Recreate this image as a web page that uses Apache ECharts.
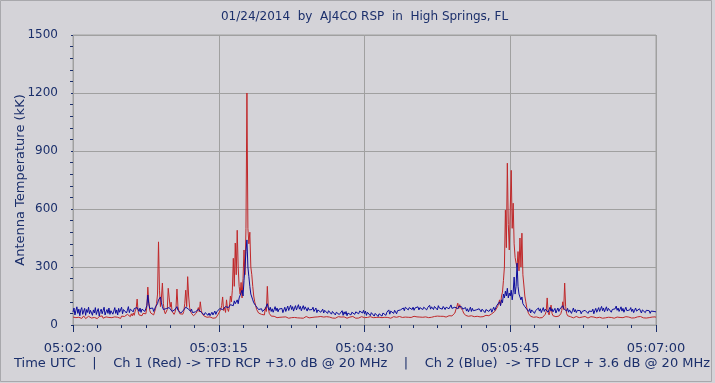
<!DOCTYPE html>
<html>
<head>
<meta charset="utf-8">
<script src="https://cdn.jsdelivr.net/npm/echarts@6/dist/echarts.min.js"></script>
<style>
  html, body { margin: 0; padding: 0; background: #d4d3d8; }
  #chart { width: 715px; height: 383px; }
</style>
</head>
<body>
<div id="chart"></div>
<script>
// X axis: seconds after 05:02:00, two samples per second
const sampleStep = 0.5;
const tickLabels = ['05:02:00', '05:03:15', '05:04:30', '05:05:45', '05:07:00'];

// Ch 1 (Red) antenna temperature, kK
const redValues = [
  41, 35, 44, 38, 33, 46, 40, 36, 43, 34, 39, 47, 37, 33, 42, 38, 45, 35, 40, 36,
  43, 34, 39, 46, 37, 33, 41, 44, 36, 38, 47, 35, 40, 33, 42, 37, 45, 39, 34, 41,
  38, 44, 36, 42, 35, 47, 40, 37, 43, 34, 46, 39, 52, 44, 48, 41, 55, 46, 50, 43,
  58, 47, 62, 50, 72, 85, 134, 70, 52, 46, 55, 48, 60, 53, 66, 58, 95, 196, 120, 75,
  62, 55, 68, 52, 60, 85, 110, 160, 430, 180, 95, 140, 217, 110, 72, 58, 66, 80, 190, 140,
  92, 118, 70, 60, 55, 66, 90, 186, 95, 70, 58, 52, 64, 56, 70, 110, 180, 95, 250, 150,
  90, 72, 60, 54, 48, 52, 58, 62, 75, 90, 68, 120, 76, 58, 50, 46, 42, 48, 40, 44,
  38, 42, 36, 40, 35, 39, 44, 37, 46, 52, 60, 55, 80, 100, 145, 75, 90, 65, 130, 85,
  70, 95, 150, 120, 180, 345, 200, 424, 260, 490, 300, 200, 160, 220, 140, 240, 388, 260, 500, 1200,
  500, 420, 480, 300, 260, 200, 150, 120, 100, 80, 70, 62, 58, 66, 55, 50, 60, 52, 90, 70,
  200, 90, 60, 52, 46, 50, 42, 45, 40, 44, 38, 42, 36, 40, 43, 37, 41, 35, 39, 42,
  37, 41, 35, 40, 44, 38, 36, 42, 39, 34, 43, 37, 40, 45, 36, 39, 42, 35, 41, 38,
  44, 36, 40, 37, 42, 35, 39, 43, 36, 41, 38, 34, 42, 40, 37, 44, 35, 39, 41, 36,
  40, 43, 37, 35, 41, 38, 44, 36, 39, 42, 35, 40, 37, 43, 38, 36, 41, 34, 39, 42,
  37, 40, 35, 43, 38, 41, 36, 39, 44, 37, 40, 35, 42, 38, 36, 41, 39, 43, 35, 40,
  38, 42, 36, 39, 41, 35, 43, 37, 40, 38, 44, 36, 39, 42, 37, 40, 35, 41, 38, 43,
  36, 40, 42, 37, 39, 44, 38, 35, 41, 37, 43, 39, 36, 40, 42, 38, 44, 37, 40, 39,
  42, 38, 41, 36, 44, 40, 37, 43, 39, 41, 38, 45, 40, 37, 42, 39, 44, 41, 38, 43,
  40, 44, 39, 42, 46, 41, 38, 45, 43, 40, 47, 42, 44, 48, 41, 46, 43, 50, 45, 48,
  42, 45, 40, 44, 41, 46, 43, 48, 44, 50, 47, 55, 52, 62, 70, 95, 113, 85, 105, 90,
  100, 75, 62, 55, 50, 47, 52, 45, 49, 44, 48, 42, 46, 43, 47, 41, 45, 44, 48, 42,
  42, 46, 43, 49, 45, 50, 47, 52, 48, 55, 50, 58, 54, 62, 70, 65, 80, 95, 110, 130,
  100, 150, 170, 230, 300, 594, 400, 837, 520, 388, 600, 800, 500, 630, 420, 350, 320, 300, 380, 280,
  450, 300, 475, 260, 207, 150, 120, 90, 70, 58, 50, 45, 42, 46, 40, 44, 38, 42, 39, 43,
  37, 41, 44, 38, 42, 47, 55, 70, 140, 65, 52, 58, 103, 60, 48, 44, 40, 43, 39, 42,
  46, 50, 58, 75, 120, 80, 217, 95, 60, 48, 44, 40, 43, 38, 42, 37, 41, 39, 44, 36,
  40, 38, 43, 37, 41, 35, 39, 44, 38, 42, 36, 40, 37, 43, 39, 35, 41, 38, 44, 37,
  42, 36, 40, 38, 43, 35, 41, 39, 37, 44, 38, 40, 36, 42, 39, 37, 43, 35, 40, 38,
  41, 37, 44, 39, 36, 42, 38, 40, 35, 43, 39, 37, 41, 44, 38, 36, 42, 40, 37, 43,
  39, 42, 36, 40, 44, 38, 41, 37, 43, 39, 36, 42, 40, 38, 44, 37, 41, 39, 36, 42,
  40
];

// Ch 2 (Blue) antenna temperature, kK
const blueValues = [
  67, 88, 52, 75, 94, 60, 82, 48, 78, 90, 55, 72, 86, 50, 80, 65, 92, 58, 76, 84,
  50, 78, 62, 90, 54, 72, 85, 46, 70, 82, 58, 75, 92, 52, 68, 80, 60, 88, 55, 74,
  83, 56, 72, 90, 60, 78, 52, 86, 66, 74, 92, 58, 80, 70, 88, 62, 76, 95, 64, 82,
  72, 90, 68, 85, 78, 95, 90, 80, 70, 88, 65, 82, 75, 92, 70, 86, 100, 155, 110, 85,
  92, 75, 88, 70, 82, 95, 100, 110, 130, 120, 145, 115, 95, 80, 88, 72, 85, 78, 95, 90,
  82, 88, 70, 78, 66, 80, 90, 95, 76, 68, 80, 62, 72, 65, 78, 88, 92, 85, 100, 82,
  78, 70, 82, 64, 72, 58, 68, 62, 75, 80, 70, 85, 66, 58, 72, 52, 64, 56, 70, 50,
  62, 48, 58, 66, 52, 60, 72, 55, 68, 78, 62, 85, 75, 92, 80, 88, 72, 95, 85, 100,
  90, 82, 105, 95, 115, 100, 125, 110, 120, 130, 110, 140, 150, 130, 180, 150, 230, 300, 380, 440,
  300, 250, 200, 160, 150, 130, 115, 105, 100, 90, 96, 80, 88, 72, 84, 70, 78, 66, 85, 90,
  110, 88, 76, 92, 70, 84, 66, 80, 95, 74, 88, 68, 82, 90, 72, 86, 64, 78, 92, 70,
  84, 98, 75, 90, 102, 80, 95, 72, 88, 100, 78, 92, 105, 82, 96, 74, 88, 100, 80, 94,
  86, 72, 90, 78, 84, 68, 80, 92, 70, 76, 88, 64, 78, 72, 86, 66, 74, 82, 62, 76,
  70, 82, 60, 74, 66, 78, 56, 70, 62, 76, 52, 66, 58, 72, 54, 64, 60, 74, 50, 68,
  56, 70, 48, 62, 58, 72, 52, 66, 60, 74, 55, 68, 62, 78, 58, 72, 66, 80, 62, 76,
  58, 72, 50, 66, 60, 76, 48, 64, 56, 70, 46, 60, 52, 68, 44, 58, 50, 64, 46, 62,
  54, 70, 50, 66, 60, 78, 56, 72, 64, 82, 60, 76, 68, 58, 74, 84, 66, 78, 86, 70,
  88, 74, 92, 82, 96, 78, 90, 84, 100, 80, 92, 76, 88, 98, 82, 94, 78, 90, 86, 96,
  80, 92, 86, 98, 78, 90, 84, 102, 82, 94, 88, 80, 96, 86, 92, 78, 100, 88, 84, 94,
  82, 96, 88, 80, 92, 86, 98, 84, 90, 104, 86, 94, 80, 92, 88, 100, 84, 96, 90, 86,
  94, 82, 88, 76, 90, 72, 84, 68, 80, 92, 70, 86, 74, 82, 66, 78, 88, 70, 84, 76,
  68, 82, 74, 90, 64, 80, 72, 86, 70, 78, 84, 66, 80, 92, 76, 88, 100, 110, 95, 120,
  100, 130, 115, 160, 140, 175, 150, 190, 140, 165, 150, 180, 130, 170, 248, 160, 200, 320, 200, 160,
  150, 130, 145, 110, 120, 95, 100, 82, 90, 70, 84, 62, 78, 68, 86, 60, 74, 80, 66, 88,
  72, 84, 64, 78, 90, 70, 82, 74, 88, 66, 80, 92, 72, 84, 68, 78, 86, 62, 76, 88,
  70, 82, 92, 78, 100, 85, 90, 80, 72, 86, 66, 78, 84, 60, 74, 88, 68, 80, 64, 76,
  82, 66, 74, 58, 70, 80, 62, 76, 68, 84, 60, 72, 78, 64, 70, 82, 58, 74, 86, 66,
  78, 90, 70, 84, 96, 74, 88, 68, 82, 94, 72, 86, 76, 92, 66, 80, 90, 74, 84, 98,
  76, 88, 70, 82, 94, 72, 86, 66, 80, 92, 74, 84, 68, 78, 90, 70, 82, 64, 76, 88,
  72, 80, 66, 84, 74, 62, 78, 70, 86, 64, 76, 82, 68, 74, 60, 72, 80, 66, 70, 62,
  68
];

const titleText = '01/24/2014  by  AJ4CO RSP  in  High Springs, FL';
const footerText = 'Time UTC    |    Ch 1 (Red) -> TFD RCP +3.0 dB @ 20 MHz    |    Ch 2 (Blue)  -> TFD LCP + 3.6 dB @ 20 MHz';
const yAxisName = 'Antenna Temperature (kK)';

const textColor = '#1b2f6b';
const gridColor = '#a0a0a0';
const font = 'DejaVu Sans';

const redData = redValues.map((v, i) => [i * sampleStep, v]);
const blueData = blueValues.map((v, i) => [i * sampleStep, v]);

const chart = echarts.init(document.getElementById('chart'), null, { renderer: 'canvas' });
chart.setOption({
  backgroundColor: '#d4d3d8',
  animation: false,
  grid: {
    left: 73, right: 59, top: 35, bottom: 58,
    show: true, borderColor: gridColor, borderWidth: 1,
    backgroundColor: 'transparent'
  },
  xAxis: {
    type: 'value', min: 0, max: 300, interval: 75,
    offset: 3,
    axisLine: { show: false },
    axisTick: { show: true, length: 7, lineStyle: { color: textColor, width: 1 } },
    minorTick: { show: true, splitNumber: 6, length: 3, lineStyle: { color: textColor, width: 1 } },
    splitLine: { show: true, lineStyle: { color: gridColor, width: 1 } },
    minorSplitLine: { show: false },
    axisLabel: {
      margin: 14,
      color: textColor, fontFamily: font, fontSize: 13,
      formatter: v => tickLabels[Math.round(v / 75)] || ''
    }
  },
  yAxis: {
    type: 'value', min: 0, max: 1500, interval: 300,
    offset: 4,
    name: yAxisName, nameLocation: 'middle', nameGap: 42, nameMoveOverlap: false,
    nameTextStyle: { color: textColor, fontFamily: font, fontSize: 13 },
    axisLine: { show: false },
    axisTick: { show: true, length: 2, lineStyle: { color: textColor, width: 1 } },
    minorTick: { show: true, splitNumber: 5, length: 3, lineStyle: { color: textColor, width: 1 } },
    splitLine: { show: true, lineStyle: { color: gridColor, width: 1 } },
    axisLabel: { margin: 11, color: textColor, fontFamily: font, fontSize: 12,
                 formatter: v => String(v) }
  },
  graphic: [
    { type: 'rect', shape: { x: 0.5, y: 0.5, width: 711, height: 381 },
      style: { fill: 'none', stroke: '#a8a8ac', lineWidth: 1 }, silent: true },
    { type: 'text', x: 364.5, y: 17,
      style: { text: titleText, fill: textColor, font: '12px "DejaVu Sans"',
               align: 'center', verticalAlign: 'middle', textAlign: 'center', textVerticalAlign: 'middle' } },
    { type: 'text', x: 14, y: 364,
      style: { text: footerText, fill: textColor, font: '13px "DejaVu Sans"',
               align: 'left', verticalAlign: 'middle', textAlign: 'left', textVerticalAlign: 'middle' } }
  ],
  series: [
    { name: 'Ch 1 (Red)', type: 'line', data: redData, showSymbol: false, symbol: 'none',
      sampling: null,
      lineStyle: { color: '#c0282a', width: 1 }, itemStyle: { color: '#c0282a' }, z: 2 },
    { name: 'Ch 2 (Blue)', type: 'line', data: blueData, showSymbol: false, symbol: 'none',
      sampling: null,
      lineStyle: { color: '#0c0c9c', width: 1 }, itemStyle: { color: '#0c0c9c' }, z: 3 }
  ]
});
</script>
</body>
</html>
